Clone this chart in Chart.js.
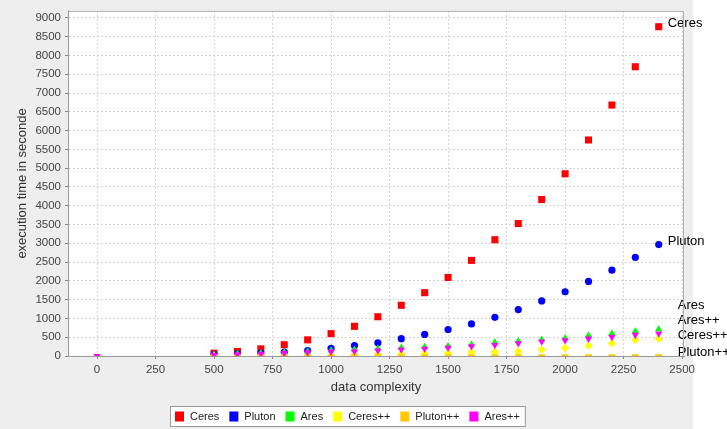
<!DOCTYPE html>
<html>
<head>
<meta charset="utf-8">
<script src="https://cdn.jsdelivr.net/npm/chart.js@4/dist/chart.umd.min.js"></script>
<style>
  html, body { margin: 0; padding: 0; background: #ffffff; }
  #wrap { position: relative; width: 727px; height: 429px; }
</style>
</head>
<body>
<div id="wrap"><canvas id="c" width="727" height="429"></canvas></div>
<script>
// data complexity values (x)
const complexity = [0, 500, 600, 700, 800, 900, 1000, 1100, 1200, 1300, 1400, 1500, 1600, 1700, 1800, 1900, 2000, 2100, 2200, 2300, 2400];

// execution time in seconds per solver
const ceres    = [null, 75, 120, 190, 300, 430, 595, 790, 1045, 1350, 1685, 2090, 2545, 3095, 3525, 4165, 4850, 5750, 6680, 7700, 8765];
const pluton   = [null, 35, 55, 80, 105, 145, 205, 280, 350, 460, 575, 705, 855, 1030, 1235, 1465, 1710, 1985, 2285, 2625, 2965];
const ares     = [null, 40, 55, 75, 95, 120, 150, 170, 195, 220, 245, 270, 305, 365, 395, 435, 475, 550, 600, 660, 715];
const ceresPP  = [null, 2, 3, 4, 5, 8, 12, 30, 38, 52, 58, 72, 98, 105, 122, 170, 210, 275, 340, 430, 455];
const plutonPP = [null, 1, 1, 1, 1, 1, 2, 2, 2, 3, 3, 3, 4, 4, 5, 5, 6, 6, 7, 8, 8];
const aresPP   = [0, 30, 45, 60, 75, 95, 115, 125, 145, 170, 190, 215, 255, 290, 335, 385, 415, 460, 505, 560, 595];

const seriesNames = ['Ceres', 'Pluton', 'Ares', 'Ceres++', 'Pluton++', 'Ares++'];
const seriesValues = [ceres, pluton, ares, ceresPP, plutonPP, aresPP];

// axis tick labels
const xTicks = [0, 250, 500, 750, 1000, 1250, 1500, 1750, 2000, 2250, 2500];
const yTicks = [0, 500, 1000, 1500, 2000, 2500, 3000, 3500, 4000, 4500, 5000, 5500, 6000, 6500, 7000, 7500, 8000, 8500, 9000];

const FONT = "'Liberation Sans', Arial, sans-serif";
const colors = ['#ff0000', '#0000ff', '#00ff00', '#ffff00', '#ffc800', '#ff00ff'];
const shapes = [
  { pointStyle: 'rect', pointRadius: 5, rotation: 0, borderWidth: 0 },
  { pointStyle: 'circle', pointRadius: 3.6, rotation: 0, borderWidth: 0 },
  { pointStyle: 'triangle', pointRadius: 4.2, rotation: 0, borderWidth: 0 },
  { pointStyle: 'rectRot', pointRadius: 4.2, rotation: 0, borderWidth: 0 },
  { pointStyle: 'line', pointRadius: 3.5, rotation: 0, borderWidth: 3 },
  { pointStyle: 'triangle', pointRadius: 4.2, rotation: 180, borderWidth: 0 }
];

function toPoints(vals) {
  const pts = [];
  vals.forEach((v, i) => { if (v !== null) pts.push({ x: complexity[i], y: v }); });
  return pts;
}

const datasets = seriesNames.map((name, i) => ({
  label: name,
  data: toPoints(seriesValues[i]),
  showLine: false,
  backgroundColor: colors[i],
  borderColor: colors[i],
  pointBackgroundColor: colors[i],
  pointBorderColor: colors[i],
  pointStyle: shapes[i].pointStyle,
  pointRadius: shapes[i].pointRadius,
  pointHoverRadius: shapes[i].pointRadius,
  pointRotation: shapes[i].rotation,
  pointBorderWidth: shapes[i].borderWidth,
  order: seriesNames.length - i
}));

// panel + plot backgrounds
const backdrop = {
  id: 'backdrop',
  beforeDraw(chart) {
    const { ctx, chartArea: a } = chart;
    ctx.save();
    ctx.fillStyle = '#ffffff';
    ctx.fillRect(0, 0, chart.width, chart.height);
    ctx.fillStyle = '#eeeeee';
    ctx.fillRect(0, 0, 693, chart.height);
    ctx.fillStyle = '#ffffff';
    ctx.fillRect(a.left, a.top, a.right - a.left, a.bottom - a.top);
    ctx.restore();
  },
  afterDraw(chart) {
    const { ctx, chartArea: a } = chart;
    ctx.save();
    ctx.strokeStyle = '#b0b0b0';
    ctx.lineWidth = 1;
    ctx.beginPath();
    ctx.moveTo(a.left + 0.5, a.top + 0.5);
    ctx.lineTo(a.right - 0.5, a.top + 0.5);
    ctx.lineTo(a.right - 0.5, a.bottom);
    ctx.stroke();
    ctx.restore();
  }
};

// series names placed beside the last point of each series
const endLabels = {
  id: 'endLabels',
  afterDatasetsDraw(chart) {
    const { ctx } = chart;
    const items = chart.data.datasets.map((ds, i) => {
      const meta = chart.getDatasetMeta(i);
      const el = meta.data[meta.data.length - 1];
      return { text: ds.label, px: el.x, py: el.y, y: el.y - 3 };
    });
    const gap = 15.3;
    items.forEach(it => {
      it.stacked = items.some(o => o !== it && Math.abs(o.py - it.py) < 20);
    });
    const stack = items.filter(it => it.stacked).sort((a, b) => b.y - a.y);
    for (let k = 1; k < stack.length; k++) {
      if (stack[k].y > stack[k - 1].y - gap) stack[k].y = stack[k - 1].y - gap;
    }
    ctx.save();
    ctx.font = '13px ' + FONT;
    ctx.fillStyle = '#000000';
    ctx.textBaseline = 'middle';
    ctx.textAlign = 'left';
    items.forEach(it => {
      ctx.fillText(it.text, it.px + (it.stacked ? 19 : 9), it.y);
    });
    ctx.restore();
  }
};

// boxed legend under the plot
const boxLegend = {
  id: 'boxLegend',
  afterDraw(chart) {
    const { ctx } = chart;
    ctx.save();
    ctx.font = '11px ' + FONT;
    const sw = 9, afterSwatch = 6, between = 10, padX = 5;
    const widths = seriesNames.map(n => ctx.measureText(n).width);
    let total = 0;
    widths.forEach((w, i) => { total += sw + afterSwatch + w + (i < widths.length - 1 ? between : 0); });
    const boxW = total + padX * 2;
    const cx = 347;
    const left = Math.round(cx - boxW / 2);
    const top = 406, h = 20;
    ctx.fillStyle = '#ffffff';
    ctx.fillRect(left, top, boxW, h);
    ctx.strokeStyle = '#999999';
    ctx.lineWidth = 1;
    ctx.strokeRect(left + 0.5, top + 0.5, boxW, h);
    let x = left + padX;
    const my = top + h / 2 + 0.5;
    ctx.textBaseline = 'middle';
    seriesNames.forEach((n, i) => {
      ctx.fillStyle = colors[i];
      ctx.fillRect(x, my - 5, sw, sw + 1);
      x += sw + afterSwatch;
      ctx.fillStyle = '#222222';
      ctx.fillText(n, x, my + 0.5);
      x += widths[i] + between;
    });
    ctx.restore();
  }
};

function keepTicks(list) {
  return scale => { scale.ticks = list.map(v => ({ value: v })); };
}
const plainNumber = v => String(v);

new Chart(document.getElementById('c'), {
  type: 'scatter',
  data: { datasets },
  plugins: [backdrop, endLabels, boxLegend],
  options: {
    responsive: false,
    animation: false,
    devicePixelRatio: 1,
    layout: { padding: { left: 0, top: 10, right: 43, bottom: 0 } },
    plugins: {
      legend: { display: false },
      tooltip: { enabled: false }
    },
    elements: { point: { hitRadius: 0 } },
    scales: {
      x: {
        type: 'linear',
        min: -124,
        max: 2508,
        afterBuildTicks: keepTicks(xTicks),
        afterFit: s => { s.height = 73; },
        grid: { color: '#d4d4d4', lineWidth: 1, tickLength: 3, tickColor: '#888888', tickBorderDash: [] },
        border: { display: true, color: '#999999', width: 1, dash: [2, 2] },
        ticks: { color: '#444444', font: { family: FONT, size: 11.5 }, padding: 4, maxRotation: 0, autoSkip: false, callback: plainNumber },
        title: { display: true, text: 'data complexity', color: '#333333', font: { family: FONT, size: 13 }, padding: { top: 0, bottom: 34 } }
      },
      y: {
        type: 'linear',
        min: 0,
        max: 9186,
        afterBuildTicks: keepTicks(yTicks),
        afterFit: s => { s.width = 68; },
        grid: { color: '#d4d4d4', lineWidth: 1, tickLength: 3, tickColor: '#888888', tickBorderDash: [] },
        border: { display: true, color: '#999999', width: 1, dash: [2, 2] },
        ticks: { color: '#444444', font: { family: FONT, size: 11.5 }, padding: 4, autoSkip: false, callback: plainNumber },
        title: { display: true, text: 'execution time in seconde', color: '#333333', font: { family: FONT, size: 13 }, padding: { top: 15, bottom: 0 } }
      }
    }
  }
});
</script>
</body>
</html>
